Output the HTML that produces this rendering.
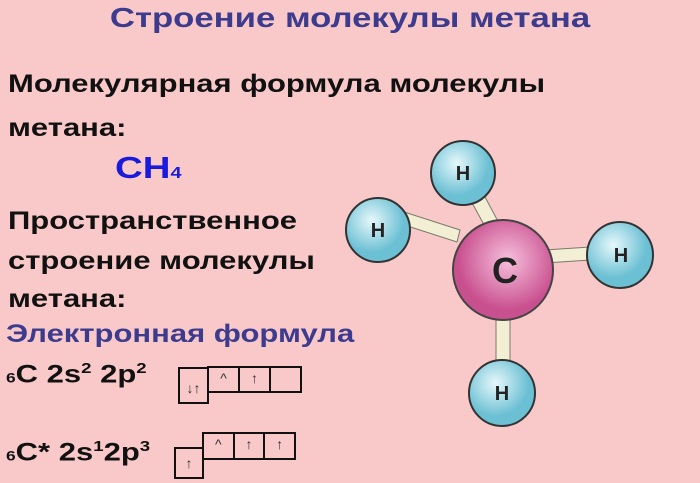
<!DOCTYPE html><html><head><meta charset="utf-8"><style>
body{margin:0;width:700px;height:483px;background:#f9c9c9;position:relative;overflow:hidden;font-family:"Liberation Sans",sans-serif;font-weight:bold}
.t{position:absolute;white-space:nowrap;transform:scaleX(1.24);transform-origin:0 0}
.b{position:absolute;border:2px solid #111;box-sizing:border-box;font-size:14px;font-weight:normal;color:#333;display:flex}
.b span{flex:1;text-align:center;border-right:2px solid #111;line-height:20px}
.b span:last-child{border-right:none}
</style></head><body>
<div class="t" style="left:0;width:700px;text-align:center;top:2px;font-size:28px;color:#3d3b8e;transform-origin:50% 0">Строение молекулы метана</div>
<div class="t" style="left:8px;top:70px;font-size:25px;color:#111">Молекулярная формула молекулы</div>
<div class="t" style="left:8px;top:114px;font-size:25px;color:#111">метана:</div>
<div class="t" style="left:115px;top:150px;font-size:31px;color:#1a1adc">CH<span style="font-size:16px">4</span></div>
<div class="t" style="left:8px;top:207px;font-size:25px;color:#111">Пространственное</div>
<div class="t" style="left:8px;top:247px;font-size:25px;color:#111">строение молекулы</div>
<div class="t" style="left:8px;top:285px;font-size:25px;color:#111">метана:</div>
<div class="t" style="left:6px;top:320px;font-size:25px;color:#3d3b8e">Электронная формула</div>
<div class="t" style="left:6px;top:360px;font-size:25px;color:#111"><span style="font-size:14px">6</span>C 2s<sup style="font-size:15px">2</sup> 2p<sup style="font-size:15px">2</sup></div>
<div class="t" style="left:6px;top:438px;font-size:25px;color:#111"><span style="font-size:14px">6</span>C* 2s<sup style="font-size:15px">1</sup>2p<sup style="font-size:15px">3</sup></div>
<div class="b" style="left:178px;top:367px;width:31px;height:37px;align-items:flex-end"><span style="line-height:28px">↓↑</span></div>
<div class="b" style="left:207px;top:366px;width:95px;height:27px"><span>^</span><span>↑</span><span></span></div>
<div class="b" style="left:174px;top:447px;width:30px;height:32px;align-items:flex-end"><span style="line-height:28px">↑</span></div>
<div class="b" style="left:202px;top:432px;width:94px;height:28px"><span>^</span><span>↑</span><span>↑</span></div>
<svg width="700" height="483" style="position:absolute;left:0;top:0">
<defs><radialGradient id="h" cx="40%" cy="35%"><stop offset="0" stop-color="#e6f8fb"/><stop offset="1" stop-color="#6cc0d4"/></radialGradient>
<radialGradient id="c" cx="55%" cy="40%"><stop offset="0" stop-color="#f6c0dc"/><stop offset="1" stop-color="#c9508f"/></radialGradient></defs>
<g stroke="#7a7a6a" stroke-width="1" fill="#f3efd5">
<polygon points="465,190 477,182 500,225 488,232"/>
<polygon points="395,222 398,210 460,230 457,242"/>
<polygon points="545,263 545,250 590,247 590,260"/>
<polygon points="496,310 510,310 510,365 496,365"/>
</g>
<g stroke="#333" stroke-width="2" fill="url(#h)">
<circle cx="463" cy="173" r="32"/><circle cx="378" cy="230" r="32"/><circle cx="620" cy="255" r="33"/><circle cx="502" cy="393" r="33"/>
</g>
<circle cx="503" cy="270" r="50" fill="url(#c)" stroke="#444" stroke-width="2"/>
<g font-family="Liberation Sans" font-weight="bold" fill="#222" text-anchor="middle">
<text x="463" y="180" font-size="20">H</text><text x="378" y="237" font-size="20">H</text><text x="621" y="262" font-size="20">H</text><text x="502" y="400" font-size="20">H</text>
<text x="505" y="283" font-size="36">C</text></g>
</svg>
</body></html>
